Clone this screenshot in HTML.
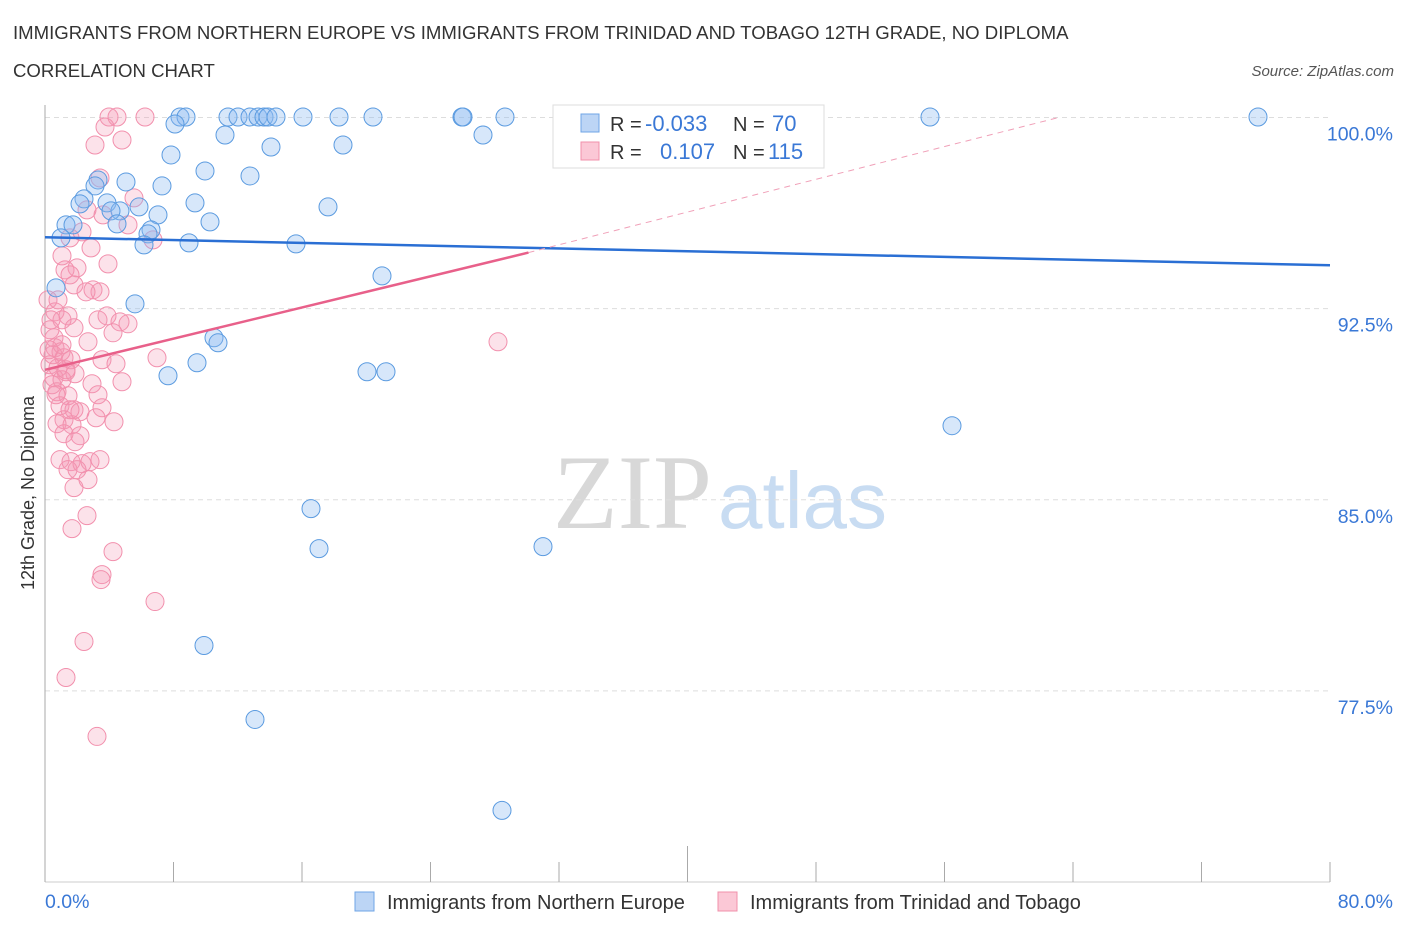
<!DOCTYPE html>
<html><head><meta charset="utf-8"><style>
body{margin:0;background:#fff;font-family:"Liberation Sans",sans-serif;}
</style></head><body>
<svg id="chart" width="1406" height="930" xmlns="http://www.w3.org/2000/svg" style="font-family:'Liberation Sans',sans-serif">
<text x="13" y="39" font-size="18.6" fill="#333">IMMIGRANTS FROM NORTHERN EUROPE VS IMMIGRANTS FROM TRINIDAD AND TOBAGO 12TH GRADE, NO DIPLOMA</text>
<text x="13" y="77" font-size="18.6" fill="#333">CORRELATION CHART</text>
<text x="1394" y="76" font-size="15" fill="#555" font-style="italic" text-anchor="end">Source: ZipAtlas.com</text>
<text x="553" y="528" font-size="106" fill="#d8d8d8" font-family="Liberation Serif,serif">ZIP</text>
<text x="718" y="528" font-size="80" fill="#c8dcf2">atlas</text>
<text transform="translate(34,493) rotate(-90)" font-size="18" fill="#333" text-anchor="middle">12th Grade, No Diploma</text>
<g id="grid"></g>
<g id="axes"></g>
<g id="pink"></g>
<g id="blue"></g>
<g id="trends"></g>
<g>
<rect x="553" y="105" width="271" height="63" fill="#fff" stroke="#ddd"/>
<rect x="581" y="114" width="18" height="18" fill="#bcd5f5" stroke="#6fa5e6"/>
<rect x="581" y="142" width="18" height="18" fill="#fbc8d6" stroke="#f090ab"/>
<text x="610" y="131" font-size="20" fill="#333">R =</text>
<text x="645" y="131" font-size="22" fill="#3a78d6">-0.033</text>
<text x="733" y="131" font-size="20" fill="#333">N =</text>
<text x="772" y="131" font-size="22" fill="#3a78d6">70</text>
<text x="610" y="159" font-size="20" fill="#333">R =</text>
<text x="660" y="159" font-size="22" fill="#3a78d6">0.107</text>
<text x="733" y="159" font-size="20" fill="#333">N =</text>
<text x="768" y="159" font-size="22" fill="#3a78d6">115</text>
</g>
<g>
<rect x="355" y="892" width="19" height="19" fill="#bcd5f5" stroke="#6fa5e6"/>
<text x="387" y="909" font-size="20" fill="#333">Immigrants from Northern Europe</text>
<rect x="718" y="892" width="19" height="19" fill="#fbc8d6" stroke="#f090ab"/>
<text x="750" y="909" font-size="20" fill="#333">Immigrants from Trinidad and Tobago</text>
</g>
</svg>
<script>
const yTicks=[100,92.5,85,77.5];
const xTickLabels=["0.0%","80.0%"];
const blueX=[180,186,228,238,250,258,264,268,276,303,339,373,462,463,505,573,930,1258,175,225,483,271,343,171,205,250,98,126,162,95,84,107,80,195,120,111,139,328,158,210,66,73,117,151,148,61,144,189,296,382,56,135,214,218,197,168,367,386,952,311,319,543,204,255,502].map(p=>(p-45)*80/1285);
const blueY=[117,117,117,117,117,117,117,117,117,117,117,117,117,117,117,117,117,117,124,135,135,147,145,155,171,176,180,182,186,186,199,203,204,203,211,211,207,207,215,222,225,225,224,230,234,238,245,243,244,276,288,304,338,343,363,376,372,372,426,509,549,547,646,720,811].map(p=>100-(p-117.5)*7.5/191.3);
const pinkX=[109,117,145,105,95,122,100,134,87,103,128,82,70,153,91,62,108,77,65,70,74,93,100,86,55,68,62,74,98,107,120,128,113,54,88,55,61,64,71,102,116,157,50,58,66,75,54,62,92,122,57,68,98,60,74,80,102,64,57,72,96,114,64,80,75,60,71,82,90,100,68,77,88,74,87,72,113,102,101,155,84,66,97,498,48,50,53,52,62,56,58,51,49,66,70].map(p=>(p-45)*80/1285);
const pinkY=[117,117,117,127,145,140,178,198,210,215,225,232,238,240,248,256,264,268,270,275,285,290,292,292,312,316,320,328,320,316,322,324,333,338,342,348,352,358,360,360,364,358,365,368,372,374,378,380,384,382,392,396,395,406,410,412,408,420,424,425,418,422,434,436,442,460,462,464,462,460,470,470,480,488,516,529,552,575,580,602,642,678,737,342,300,330,355,385,345,395,300,320,350,370,410].map(p=>100-(p-117.5)*7.5/191.3);
const blueTrend=[95.3,94.2];
const pinkTrend=[90.1,94.7,100.0];
const pinkTrendX=[0,30.1,63.1];
const X0=45,X1=1330,Y0=117.5,Y1=882;
const sx=v=>X0+v/80*(X1-X0);
const sy=v=>Y0+(100-v)/30*(Y1-Y0);
const NS="http://www.w3.org/2000/svg";
function mk(t,a,p){const e=document.createElementNS(NS,t);for(const k in a)e.setAttribute(k,a[k]);p.appendChild(e);return e;}
const grid=document.getElementById('grid'),axes=document.getElementById('axes');
yTicks.forEach(v=>{
 const l=mk('line',{x1:X0,x2:1330,y1:sy(v),y2:sy(v),stroke:'#ddd','stroke-dasharray':'5,4'},grid);
 
 
 const t=mk('text',{x:1393,y:sy(v)+23,'font-size':19.5,fill:'#3a78d6','text-anchor':'end'},grid);
 t.textContent=v.toFixed(1)+'%';
 
 
});
mk('line',{x1:X0,x2:X0,y1:105,y2:Y1,stroke:'#aaa'},axes);
mk('line',{x1:X0,x2:1330,y1:Y1,y2:Y1,stroke:'#ccc'},axes);
for(let i=0;i<=10;i++){const x=X0+i*(X1-X0)/10;mk('line',{x1:x,x2:x,y1:i==5?846:862,y2:Y1,stroke:'#aaa'},axes);}
const xl=mk('text',{x:45,y:908,'font-size':19.5,fill:'#3a78d6'},axes);xl.textContent=xTickLabels[0];


const xr=mk('text',{x:1393,y:908,'font-size':19.5,fill:'#3a78d6','text-anchor':'end'},axes);xr.textContent=xTickLabels[1];


const pg=document.getElementById('pink');
pinkX.forEach((v,i)=>{const c=mk('circle',{cx:sx(v),cy:sy(pinkY[i]),r:9,fill:'rgba(245,150,180,0.28)',stroke:'#f290ad','stroke-width':1},pg);
 
 });
const bg=document.getElementById('blue');
blueX.forEach((v,i)=>{const c=mk('circle',{cx:sx(v),cy:sy(blueY[i]),r:9,fill:'rgba(140,185,240,0.35)',stroke:'#5b9be0','stroke-width':1},bg);
 
 });
const tg=document.getElementById('trends');
const bt=mk('line',{x1:sx(0),y1:sy(blueTrend[0]),x2:sx(80),y2:sy(blueTrend[1]),stroke:'#2a6fd4','stroke-width':2.5},tg);


const pt=mk('line',{x1:sx(pinkTrendX[0]),y1:sy(pinkTrend[0]),x2:sx(pinkTrendX[1]),y2:sy(pinkTrend[1]),stroke:'#e8608a','stroke-width':2.5},tg);


const pd=mk('line',{x1:sx(pinkTrendX[1]),y1:sy(pinkTrend[1]),x2:sx(pinkTrendX[2]),y2:sy(pinkTrend[2]),stroke:'#f0a0b8','stroke-width':1,'stroke-dasharray':'6,5'},tg);


</script>
</body></html>
